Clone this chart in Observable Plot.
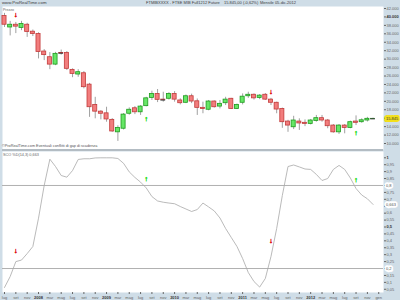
<!DOCTYPE html>
<html><head><meta charset="utf-8">
<script src="https://cdn.jsdelivr.net/npm/d3@7"></script>
<script src="https://cdn.jsdelivr.net/npm/@observablehq/plot@0.6"></script>
<style>
html,body{margin:0;padding:0;background:#fff}
#wrap{position:relative;width:400px;height:300px;background:#cfdde7;overflow:hidden;font-family:"Liberation Sans",Arial,sans-serif}
.t{position:absolute;font-size:4px;color:#3a3a3a;white-space:nowrap;line-height:6px}
#p1{position:absolute;left:0;top:6px}
#sep{position:absolute;left:2px;top:149px;width:381px;height:2px;background:#b3bcc3}
#p2{position:absolute;left:0;top:151px}
</style></head><body>
<div id="wrap">
  <div id="p1"></div>
  <div id="sep"></div>
  <div id="p2"></div>
  <div class="t" style="left:2px;top:0;font-size:4.3px">www.ProRealTime.com</div>
  <div class="t" style="left:146px;top:0">FTMIBXXXX - FTSE MIB Full1212 Future</div>
  <div class="t" style="left:224px;top:0">15.845,00 (-0,62%)</div>
  <div class="t" style="left:260px;top:0">Mensile 05-dic-2012</div>
  <div class="t" style="left:3px;top:7px;font-size:3.5px;color:#666">Prezzo</div>
  <div class="t" style="left:2px;top:143px;font-size:3.8px;color:#555">©ProRealTime.com  Eventuali conflitti di gap di scadenza</div>
  <div class="t" style="left:3px;top:152px;font-size:3.8px;color:#666">SCO %D(14,3) 0,663</div>
</div>
<script>
// monthly candles Jul 2007 .. Dec 2012
const months = ["2007-07","2007-08","2007-09","2007-10","2007-11","2007-12",
"2008-01","2008-02","2008-03","2008-04","2008-05","2008-06","2008-07","2008-08","2008-09","2008-10","2008-11","2008-12",
"2009-01","2009-02","2009-03","2009-04","2009-05","2009-06","2009-07","2009-08","2009-09","2009-10","2009-11","2009-12",
"2010-01","2010-02","2010-03","2010-04","2010-05","2010-06","2010-07","2010-08","2010-09","2010-10","2010-11","2010-12",
"2011-01","2011-02","2011-03","2011-04","2011-05","2011-06","2011-07","2011-08","2011-09","2011-10","2011-11","2011-12",
"2012-01","2012-02","2012-03","2012-04","2012-05","2012-06","2012-07","2012-08","2012-09","2012-10","2012-11","2012-12"];
const open = [40200,37500,38150,37400,38150,36500,35950,31800,30450,28700,31450,31450,27450,26350,26650,23950,19150,17550,17150,15600,12650,13500,17050,18350,17400,18850,20800,21750,20400,20600,21750,20200,19650,21200,20000,18450,18000,19950,18750,19550,20600,18200,19650,21200,21550,20800,21550,20400,19650,18200,15200,13850,15200,14900,14650,15350,16000,15450,14250,12650,14250,13700,15200,15050,15450,15800];
const high = [40850,38950,38700,38950,38500,36900,36250,32250,31550,31600,32150,31800,27700,27500,27050,24250,20950,17800,18600,15900,14200,17100,18450,18750,19000,20950,22400,22800,22150,22050,22300,20600,21500,21700,20550,19800,20200,20100,20200,20950,20700,19350,21750,22150,21750,21600,21850,20700,19800,18400,15500,16450,15850,15600,15700,16650,16650,15700,14500,14500,14500,15300,16550,15850,16200,16000];
const low = [37500,35500,36050,36750,35150,35350,30050,29650,27500,28450,30950,27300,25600,25700,22950,16200,15850,15600,15050,12650,10500,13200,16700,16850,16650,18700,20200,19700,19800,20300,19800,19150,19450,19450,16650,17050,17750,18400,18200,19000,18050,18050,19150,20700,20300,20400,20200,19000,17050,13600,12650,13300,13100,14000,14400,15050,15050,13500,12450,12150,12300,13500,14250,14800,15100,15700];
const close = [38150,38150,37700,38350,36450,35950,31700,30950,28700,31250,31400,27700,26500,26900,23350,18600,17550,17050,15700,12850,13700,16850,18000,17400,18750,20700,21750,20350,20300,21750,20400,19550,21200,19950,18450,18200,19950,18600,19400,20400,18200,19150,21100,21550,20700,21350,20400,19650,18050,15050,14250,15450,14750,14650,15450,16000,15450,14100,12650,14250,13700,15050,14900,15500,15850,15845];
// oscillator (lower panel)
const osc = [0.063,0.142,0.25,0.261,0.308,0.359,0.564,0.8,0.99,0.937,0.872,0.86,0.908,0.988,0.993,0.993,0.999,1.0,1.0,1.0,0.995,0.96,0.898,0.858,0.824,0.782,0.72,0.688,0.679,0.673,0.668,0.648,0.63,0.612,0.626,0.673,0.645,0.616,0.565,0.489,0.424,0.359,0.272,0.171,0.106,0.066,0.128,0.287,0.489,0.728,0.937,0.948,0.934,0.919,0.916,0.88,0.836,0.85,0.916,0.945,0.916,0.854,0.778,0.731,0.704,0.663];
// signals
const sigIndex = [2, 25, 47, 62];
const sigDir = ["down","up","down","up"];
const sigPrice = [40500, 15850, 22200, 12450];
const sigOsc = [0.33, 0.85, 0.40, 0.845];
// axis tick labels (every 2 months, from lug 2007 to gen 2013)
const xTickLabels = ["lug","set","nov","2008","mar","mag","lug","set","nov","2009","mar","mag","lug","set","nov","2010","mar","mag","lug","set","nov","2011","mar","mag","lug","set","nov","2012","mar","mag","lug","set","nov","gen"];
const priceTicks = d3.range(10000, 42001, 2000);
const oscTicks = d3.range(1, 21).map(k => k * 0.05);
const oscLevels = [0.8, 0.2];

const loc = d3.formatLocale({decimal: ",", thousands: ".", grouping: [3], currency: ["€", ""]});
const fPrice = loc.format(",.0f");
const fOsc = loc.format(".2~f");
const fOsc3 = loc.format(".3f");

const lastClose = close[close.length - 1];
const lastOsc = osc[osc.length - 1];
const candles = months.map((m, i) => ({i, m, o: open[i], h: high[i], l: low[i], c: close[i]}));
const signals = sigIndex.map((i, k) => ({i, dir: sigDir[k], price: sigPrice[k], osc: sigOsc[k]}));
const oscData = osc.map((v, i) => ({i, v}));

const xOpt = {type: "linear", domain: [0, 66], range: [4, 4 + 66 * 5.67], axis: null};
const style = {fontSize: "4px", fontFamily: "Liberation Sans, Arial, sans-serif", background: "transparent", color: "#666", overflow: "visible"};
const up = d => d.c >= d.o;

const p1 = Plot.plot({
  width: 400, height: 143, marginLeft: 2, marginRight: 17, marginTop: 0, marginBottom: 0,
  style,
  x: xOpt,
  y: {domain: [10000, 42000], range: [137, 2], axis: null},
  color: {type: "identity"},
  marks: [
    Plot.frame({fill: "white", stroke: null}),
    Plot.ruleX(candles, {x: "i", y1: "l", y2: "h", stroke: "#a0a0a0", strokeWidth: 1}),
    Plot.rect(candles, {x1: d => d.i - 0.36, x2: d => d.i + 0.36, y1: "o", y2: "c",
      fill: d => up(d) ? "#66e666" : "#f27d7d", stroke: d => up(d) ? "#1f9a1f" : "#c23a3a", strokeWidth: 0.8}),
    Plot.ruleY(candles.filter(d => Math.abs(d.c - d.o) < 120), {y: "c", x1: d => d.i - 0.42, x2: d => d.i + 0.42, stroke: "#333", strokeWidth: 1}),
    Plot.text(signals, {x: "i", y: "price", text: d => d.dir === "up" ? "↑" : "↓",
      fill: d => d.dir === "up" ? "#22dd22" : "#e01010", stroke: d => d.dir === "up" ? "#22dd22" : "#e01010", strokeWidth: 0.5, fontSize: 7, fontWeight: "bold"}),
    Plot.axisY(priceTicks, {anchor: "right", tickFormat: d => Math.abs(d - lastClose) < 700 ? "" : fPrice(d), tickSize: 2, tickPadding: 1, label: null}),
    Plot.text([lastClose], {y: d => d, frameAnchor: "right", dx: 2.5, textAnchor: "start",
      text: d => fPrice(d), fill: "#333", stroke: "#f3df1a", strokeWidth: 4, strokeLinejoin: "round", fontSize: 4})
  ]
});

const p2 = Plot.plot({
  width: 400, height: 149, marginLeft: 2, marginRight: 17, marginTop: 0, marginBottom: 8,
  style,
  x: xOpt,
  y: {domain: [0, 1], range: [144.7, 6.3], axis: null},
  color: {type: "identity"},
  marks: [
    Plot.frame({fill: "white", stroke: null}),
    Plot.ruleY(oscLevels, {stroke: "#b0b0b0", strokeWidth: 1}),
    Plot.line(oscData, {x: "i", y: "v", stroke: "#a8a8a8", strokeWidth: 0.8}),
    Plot.text(signals, {x: "i", y: "osc", text: d => d.dir === "up" ? "↑" : "↓",
      fill: d => d.dir === "up" ? "#22dd22" : "#e01010", stroke: d => d.dir === "up" ? "#22dd22" : "#e01010", strokeWidth: 0.5, fontSize: 7, fontWeight: "bold"}),
    Plot.axisY(oscTicks, {anchor: "right", tickFormat: d => Math.abs(d - lastOsc) < 0.03 ? "" : fOsc(d), tickSize: 2, tickPadding: 1, label: null}),
    Plot.axisX(d3.range(0, 67, 2), {anchor: "bottom", tickFormat: d => xTickLabels[d / 2], tickSize: 2, tickPadding: 1.5, label: null}),
    Plot.text(oscLevels, {y: d => d, frameAnchor: "right", dx: 2.5, textAnchor: "start",
      text: d => fOsc(d), fill: "#555", stroke: "white", strokeWidth: 3.5, strokeLinejoin: "round", fontSize: 4}),
    Plot.text([lastOsc], {y: d => d, frameAnchor: "right", dx: 2.5, textAnchor: "start",
      text: d => fOsc3(d), fill: "#555", stroke: "white", strokeWidth: 3.5, strokeLinejoin: "round", fontSize: 4})
  ]
});

document.getElementById("p1").appendChild(p1);
document.getElementById("p2").appendChild(p2);

// emphasise year labels and key levels
p2.querySelectorAll("text").forEach(t => {
  const s = t.textContent;
  if (/^\d{4}$/.test(s) || s === "1" || s === "0,5") { t.setAttribute("font-weight", "bold"); t.setAttribute("fill", "#333"); }
});
p1.querySelectorAll("text").forEach(t => { if (t.textContent === "40.000") { t.setAttribute("font-weight", "bold"); t.setAttribute("fill", "#333"); } });
</script>
</body></html>
